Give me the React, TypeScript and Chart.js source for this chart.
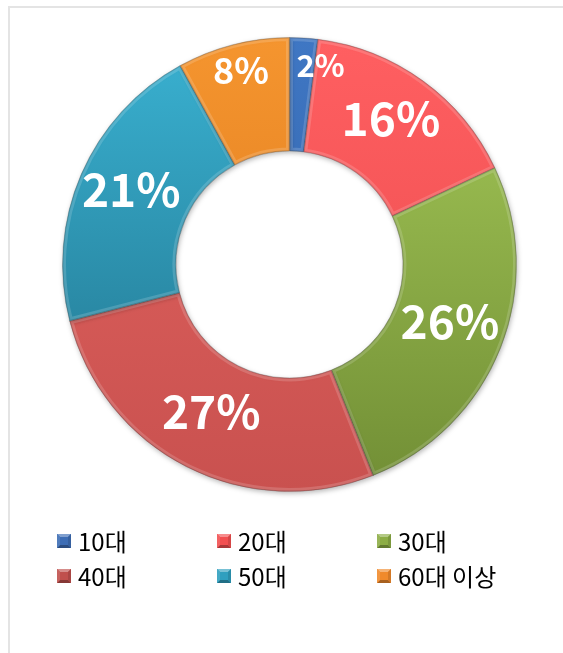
import React, { useEffect, useRef } from 'react';
import { Chart, registerables } from 'chart.js';

Chart.register(...registerables);

const CATEGORIES = ['10대', '20대', '30대', '40대', '50대', '60대 이상'];
const SHARES = [2, 16, 26, 27, 21, 8];
const LABELS = ['2%', '16%', '26%', '27%', '21%', '8%'];

const TOP_COLORS = ['#3f77c4', '#ff5f61', '#a5c958', '#e36460', '#3ab2d2', '#f5952f'];
const BOTTOM_COLORS = ['#2e5c9e', '#e84a4c', '#718e35', '#c9514f', '#1f6f88', '#d87418'];
const LEGEND_COLORS = ['#3d6db5', '#f24f50', '#8cad45', '#c0504d', '#2f9fbf', '#f08a2c'];

const W = 563;
const H = 653;

function shade(hex: string, amt: number): string {
  const n = parseInt(hex.slice(1), 16);
  let r = (n >> 16) & 255, g = (n >> 8) & 255, b = n & 255;
  if (amt >= 0) {
    r = Math.round(r + (255 - r) * amt); g = Math.round(g + (255 - g) * amt); b = Math.round(b + (255 - b) * amt);
  } else {
    r = Math.round(r * (1 + amt)); g = Math.round(g * (1 + amt)); b = Math.round(b * (1 + amt));
  }
  return `rgb(${r},${g},${b})`;
}

function bevelBox(ctx: CanvasRenderingContext2D, x: number, y: number, s: number, color: string) {
  const i = 3;
  const poly = (pts: number[][], c: string) => {
    ctx.beginPath();
    ctx.moveTo(pts[0][0], pts[0][1]);
    for (let k = 1; k < pts.length; k++) ctx.lineTo(pts[k][0], pts[k][1]);
    ctx.closePath();
    ctx.fillStyle = c;
    ctx.fill();
  };
  ctx.fillStyle = color;
  ctx.fillRect(x, y, s, s);
  poly([[x, y], [x + s, y], [x + s - i, y + i], [x + i, y + i]], shade(color, 0.35));
  poly([[x, y + s], [x + s, y + s], [x + s - i, y + s - i], [x + i, y + s - i]], shade(color, -0.3));
  poly([[x, y], [x + i, y + i], [x + i, y + s - i], [x, y + s]], shade(color, 0.1));
  poly([[x + s, y], [x + s - i, y + i], [x + s - i, y + s - i], [x + s, y + s]], shade(color, -0.12));
}

const shadowPlugin = {
  id: 'ringShadow',
  beforeDatasetsDraw(chart: any) {
    const ctx = chart.ctx;
    ctx.save();
    ctx.shadowColor = 'rgba(0,0,0,0.28)';
    ctx.shadowBlur = 5;
    ctx.shadowOffsetX = 1;
    ctx.shadowOffsetY = 2;
  },
  afterDatasetsDraw(chart: any) {
    const ctx = chart.ctx;
    ctx.restore();
    const meta = chart.getDatasetMeta(0);
    meta.data.forEach((arc: any) => {
      const p = arc.getProps(['x', 'y', 'startAngle', 'endAngle', 'innerRadius', 'outerRadius'], true);
      ctx.save();
      ctx.beginPath();
      ctx.arc(p.x, p.y, p.outerRadius, p.startAngle, p.endAngle);
      ctx.arc(p.x, p.y, p.innerRadius, p.endAngle, p.startAngle, true);
      ctx.closePath();
      ctx.clip();
      ctx.lineWidth = 7;
      ctx.strokeStyle = 'rgba(255,255,255,0.16)';
      ctx.stroke();
      ctx.lineWidth = 2;
      ctx.strokeStyle = 'rgba(0,0,0,0.12)';
      ctx.stroke();
      ctx.restore();
    });
  },
};

const labelPlugin = {
  id: 'sliceLabels',
  afterDraw(chart: any) {
    const ctx = chart.ctx;
    const meta = chart.getDatasetMeta(0);
    ctx.save();
    ctx.fillStyle = '#ffffff';
    ctx.textBaseline = 'middle';
    meta.data.forEach((arc: any, i: number) => {
      const p = arc.getProps(['x', 'y', 'startAngle', 'endAngle', 'innerRadius', 'outerRadius'], true);
      const share = SHARES[i];
      const size = share >= 10 ? 46 : share >= 5 ? 36 : 31;
      const frac = share >= 10 ? 0.52 : 0.72;
      const r = p.innerRadius + (p.outerRadius - p.innerRadius) * frac;
      const mid = (p.startAngle + p.endAngle) / 2;
      ctx.font = `bold ${size}px "Noto Sans CJK KR", "Noto Sans", sans-serif`;
      const tw = ctx.measureText(LABELS[i]).width;
      let lx = p.x + Math.cos(mid) * r;
      const ly = p.y + Math.sin(mid) * r - size * 0.15;
      const arcLen = (p.endAngle - p.startAngle) * r;
      if (tw > arcLen) {
        const sx = p.x + Math.cos(p.startAngle) * r;
        lx = sx + 7 + tw / 2;
      }
      ctx.textAlign = 'center';
      ctx.fillText(LABELS[i], lx, ly);
    });
    ctx.restore();
  },
};

const legendPlugin = {
  id: 'gridLegend',
  afterDraw(chart: any) {
    const ctx = chart.ctx;
    const left = 57;
    const colW = 160;
    const top = 534;
    const rowH = 35;
    const box = 14;
    ctx.save();
    ctx.font = '24px "Noto Sans CJK KR", "Noto Sans", sans-serif';
    ctx.textBaseline = 'middle';
    ctx.textAlign = 'left';
    CATEGORIES.forEach((name, i) => {
      const col = i % 3;
      const row = Math.floor(i / 3);
      const bx = left + col * colW;
      const by = top + row * rowH;
      bevelBox(ctx, bx, by, box, LEGEND_COLORS[i]);
      ctx.fillStyle = '#000000';
      ctx.fillText(name, bx + 21, by + box / 2 + 1);
    });
    ctx.restore();
  },
};

export default function App() {
  const ref = useRef<HTMLCanvasElement | null>(null);

  useEffect(() => {
    if (!ref.current) return;
    const chart = new Chart(ref.current, {
      type: 'doughnut',
      data: {
        labels: CATEGORIES,
        datasets: [
          {
            data: SHARES,
            backgroundColor: (c: any) => {
              const i = c.dataIndex ?? 0;
              const area = c.chart.chartArea;
              if (!area) return TOP_COLORS[i];
              const g = c.chart.ctx.createLinearGradient(0, area.top, 0, area.bottom);
              g.addColorStop(0, TOP_COLORS[i]);
              g.addColorStop(1, BOTTOM_COLORS[i]);
              return g;
            },
            borderColor: 'rgba(0,0,0,0.18)',
            borderWidth: 1,
          },
        ],
      },
      options: {
        responsive: false,
        animation: false,
        events: [],
        cutout: '50%',
        radius: 227,
        layout: { padding: { left: 62, right: 46, top: 37, bottom: 161 } },
        plugins: {
          legend: { display: false },
          tooltip: { enabled: false },
        },
      },
      plugins: [shadowPlugin, labelPlugin, legendPlugin],
    });
    return () => chart.destroy();
  }, []);

  return (
    <div style={{ position: 'absolute', left: 0, top: 0, width: W, height: H, overflow: 'hidden', background: '#fff' }}>
      <div
        style={{
          position: 'absolute',
          left: 8,
          top: 6,
          width: W - 8,
          height: H - 6,
          borderTop: '2px solid #e4e4e4',
          borderLeft: '2px solid #e4e4e4',
          boxSizing: 'border-box',
        }}
      />
      <canvas ref={ref} width={W} height={H} style={{ position: 'absolute', left: 0, top: 0, width: W, height: H }} />
    </div>
  );
}
